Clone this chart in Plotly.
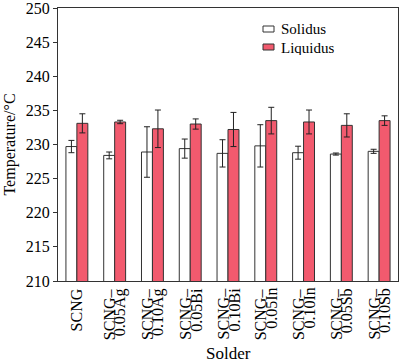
import plotly.graph_objects as go

categories = ["SCNG", "SCNG–0.05Ag", "SCNG–0.10Ag", "SCNG–0.05Bi", "SCNG–0.10Bi",
              "SCNG–0.05In", "SCNG–0.10In", "SCNG–0.05Sb", "SCNG–0.10Sb"]
label_line1 = ["SCNG", "SCNG–", "SCNG–", "SCNG–", "SCNG–", "SCNG–", "SCNG–", "SCNG–", "SCNG–"]
label_line2 = ["", "0.05Ag", "0.10Ag", "0.05Bi", "0.10Bi", "0.05In", "0.10In", "0.05Sb", "0.10Sb"]
series_names = ["Solidus", "Liquidus"]
solidus = [229.7, 228.4, 228.9, 229.4, 228.7, 229.8, 228.8, 228.6, 229.0]
solidus_err = [0.9, 0.5, 3.7, 1.4, 2.0, 3.1, 0.95, 0.15, 0.3]
liquidus = [233.1, 233.3, 232.3, 233.0, 232.2, 233.5, 233.3, 232.8, 233.5]
liquidus_err = [1.4, 0.25, 2.75, 0.75, 2.5, 1.95, 1.75, 1.7, 0.7]
y_ticks = [210, 215, 220, 225, 230, 235, 240, 245, 250]

FONT = "Liberation Serif"
W, H = 400, 364
ML, MR, MT, MB = 58, 2, 8, 83
PW, PH = W - ML - MR, H - MT - MB
colors = ["white", "#F25A6E"]


def px_x(px):
    return (px - ML) / PW


def px_y(py):
    return (H - MB - py) / PH


fig = go.Figure()
fig.add_trace(go.Bar(
    x=categories, y=solidus, name=series_names[0], showlegend=False,
    marker=dict(color=colors[0], line=dict(color="#333333", width=1)),
    error_y=dict(type="data", array=solidus_err, color="#222222", thickness=1, width=3),
))
fig.add_trace(go.Bar(
    x=categories, y=liquidus, name=series_names[1], showlegend=False,
    marker=dict(color=colors[1], line=dict(color="#333333", width=1)),
    error_y=dict(type="data", array=liquidus_err, color="#222222", thickness=1, width=3),
))

annotations = []
for c, l1, l2 in zip(categories, label_line1, label_line2):
    if l2:
        annotations.append(dict(x=c, y=0, xref="x", yref="paper", text=l1, textangle=-90,
                                showarrow=False, xanchor="center", yanchor="top",
                                xshift=-5.5, yshift=-5, font=dict(family=FONT, size=16, color="black")))
        annotations.append(dict(x=c, y=0, xref="x", yref="paper", text=l2, textangle=-90,
                                showarrow=False, xanchor="center", yanchor="top",
                                xshift=5.5, yshift=-5, font=dict(family=FONT, size=16, color="black")))
    else:
        annotations.append(dict(x=c, y=0, xref="x", yref="paper", text=l1, textangle=-90,
                                showarrow=False, xanchor="center", yanchor="top",
                                yshift=-5, font=dict(family=FONT, size=16, color="black")))
annotations.append(dict(x=0.5, y=0, xref="paper", yref="paper", text="Solder", showarrow=False,
                        xanchor="center", yanchor="top", yshift=-61,
                        font=dict(family=FONT, size=17, color="black")))

# manual legend
shapes = []
legend_rows = [29, 47]
for name, col, cy in zip(series_names, colors, legend_rows):
    shapes.append(dict(type="rect", xref="paper", yref="paper",
                       x0=px_x(263), x1=px_x(274), y0=px_y(cy + 3), y1=px_y(cy - 3),
                       fillcolor=col, line=dict(color="#333333", width=1)))
    annotations.append(dict(x=px_x(279), y=px_y(cy), xref="paper", yref="paper", text=name,
                            showarrow=False, xanchor="left", yanchor="middle", height=15,
                            valign="middle",
                            font=dict(family=FONT, size=15, color="black")))

fig.update_layout(
    width=W, height=H,
    margin=dict(l=ML, r=MR, t=MT, b=MB),
    paper_bgcolor="white", plot_bgcolor="white",
    barmode="group", bargap=0.42, bargroupgap=0,
    font=dict(family=FONT, size=16, color="black"),
    showlegend=False,
    annotations=annotations,
    shapes=shapes,
)
fig.update_xaxes(showticklabels=False, ticks="", showline=True, linecolor="#333333",
                 linewidth=1, mirror=True, showgrid=False)
fig.update_yaxes(range=[210, 250], tickvals=y_ticks, ticks="outside", ticklen=4,
                 tickcolor="#333333", showline=True, linecolor="#333333", linewidth=1,
                 mirror=True, showgrid=False, zeroline=False, automargin=False,
                 ticklabeloverflow="allow",
                 tickfont=dict(family=FONT, size=16),
                 title=dict(text="Temperature/°C", font=dict(family=FONT, size=16), standoff=6))
fig.write_html("out.html", config={"displayModeBar": False})

with open("out.html", "r", encoding="utf-8") as f:
    html = f.read()
html = html.replace("<head>", "<head><style>html,body{margin:0;padding:0;overflow:hidden;}</style>", 1)
with open("out.html", "w", encoding="utf-8") as f:
    f.write(html)
